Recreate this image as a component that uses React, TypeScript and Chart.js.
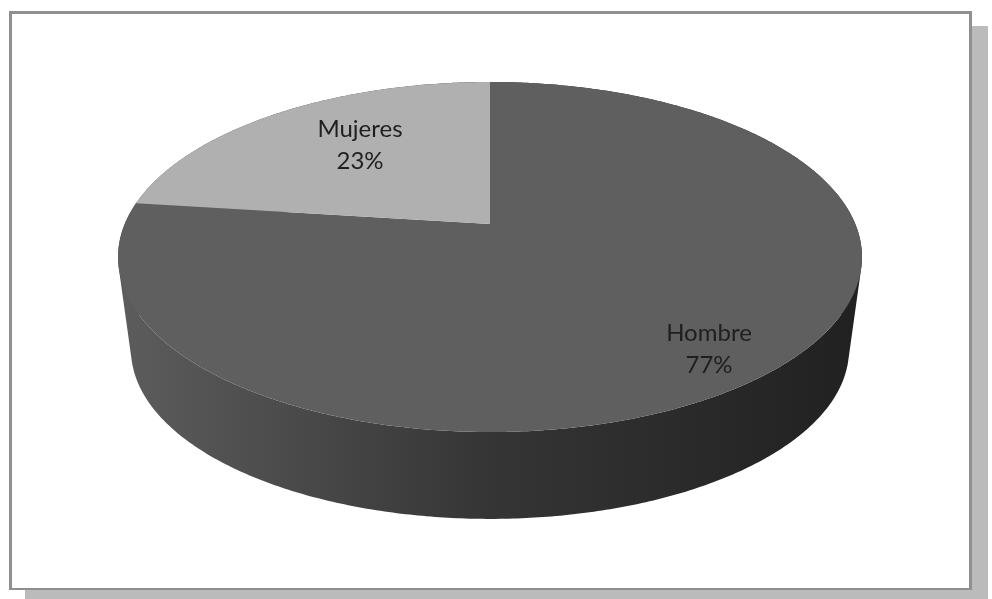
import React, { useEffect, useRef } from "react";
import { Chart, registerables } from "chart.js";

Chart.register(...registerables);

const categories = ["Hombre", "Mujeres"];
const shares = [77, 23];
const sliceColors = ["#5f5f5f", "#b0b0b0"];

// Perspective of the pie's top face
const CX = 490, CY = 224, A = 365.3, B = 168.8, K = -0.1886;
// Bottom rim of the pie
const BOT_SCALE = 0.965, BOT_CY = 350;
const TOP_ELLIPSE_CY = 257;

const project = (angle: number): [number, number] => {
  const u = Math.cos(angle), v = Math.sin(angle);
  const w = 1 + K * v;
  return [CX + (A * u) / w, CY + (B * v) / w];
};
const projectBottom = (angle: number): [number, number] => {
  const [x, y] = project(angle);
  return [CX + (x - CX) * BOT_SCALE, BOT_CY + (y - TOP_ELLIPSE_CY) * BOT_SCALE];
};

const sampleAngles = (start: number, end: number) => {
  const n = Math.max(2, Math.ceil((end - start) / 0.01));
  const out: number[] = [];
  for (let i = 0; i <= n; i++) out.push(start + ((end - start) * i) / n);
  return out;
};

const labelAnchors = [
  { x: 709, y1: 341, y2: 373 },
  { x: 360, y1: 137, y2: 169 },
];

const perspectivePie = {
  id: "perspectivePie",
  beforeDatasetsDraw(chart: any) {
    const ctx: CanvasRenderingContext2D = chart.ctx;
    const arcs = chart.getDatasetMeta(0).data;
    ctx.save();

    const grad = ctx.createLinearGradient(CX - A, 0, CX + A, 0);
    grad.addColorStop(0, "#5c5c5c");
    grad.addColorStop(0.5, "#353535");
    grad.addColorStop(1, "#212121");

    // Side wall
    arcs.forEach((arc: any) => {
      const angles = sampleAngles(arc.startAngle, arc.endAngle);
      ctx.beginPath();
      for (let i = 0; i < angles.length - 1; i++) {
        const q = [project(angles[i]), project(angles[i + 1]), projectBottom(angles[i + 1]), projectBottom(angles[i])];
        let area = 0;
        q.forEach((p, j) => {
          const r = q[(j + 1) % 4];
          area += p[0] * r[1] - r[0] * p[1];
        });
        if (area < 0) q.reverse();
        ctx.moveTo(q[0][0], q[0][1]);
        for (let j = 1; j < 4; j++) ctx.lineTo(q[j][0], q[j][1]);
        ctx.closePath();
      }
      ctx.fillStyle = grad;
      ctx.fill("nonzero");
    });

    // Top face
    arcs.forEach((arc: any, i: number) => {
      ctx.beginPath();
      ctx.moveTo(CX, CY);
      sampleAngles(arc.startAngle, arc.endAngle).forEach((a) => {
        const [x, y] = project(a);
        ctx.lineTo(x, y);
      });
      ctx.closePath();
      ctx.fillStyle = arc.options.backgroundColor || sliceColors[i];
      ctx.fill();
    });

    // Labels
    ctx.font = '24px Lato, "Open Sans", sans-serif';
    ctx.fillStyle = "#1f1f1f";
    ctx.textAlign = "center";
    ctx.textBaseline = "alphabetic";
    const total = shares.reduce((s, v) => s + v, 0);
    categories.forEach((name, i) => {
      const a = labelAnchors[i];
      ctx.fillText(name, a.x, a.y1);
      ctx.fillText(`${Math.round((shares[i] / total) * 100)}%`, a.x, a.y2);
    });

    ctx.restore();
    return false;
  },
};

export default function App() {
  const ref = useRef<HTMLCanvasElement>(null);
  useEffect(() => {
    document.body.style.margin = "0";
    const chart = new Chart(ref.current!, {
      type: "pie",
      data: {
        labels: categories,
        datasets: [{ data: shares, backgroundColor: sliceColors, borderWidth: 0 }],
      },
      options: {
        animation: false,
        responsive: false,
        events: [],
        plugins: { legend: { display: false }, tooltip: { enabled: false } },
      },
      plugins: [perspectivePie],
    } as any);
    return () => chart.destroy();
  }, []);

  return (
    <div style={{ position: "relative", width: 992, height: 599, background: "#fff", overflow: "hidden" }}>
      <div style={{ position: "absolute", left: 25, top: 26, width: 963, height: 573, background: "#bbbbbb" }} />
      <div
        style={{
          position: "absolute",
          left: 9,
          top: 11,
          width: 957,
          height: 574,
          background: "#fff",
          borderStyle: "solid",
          borderColor: "#8f8f8f",
          borderWidth: "3px 3px 2px 3px",
        }}
      />
      <canvas ref={ref} width={992} height={599} style={{ position: "absolute", left: 0, top: 0, display: "block" }} />
    </div>
  );
}
